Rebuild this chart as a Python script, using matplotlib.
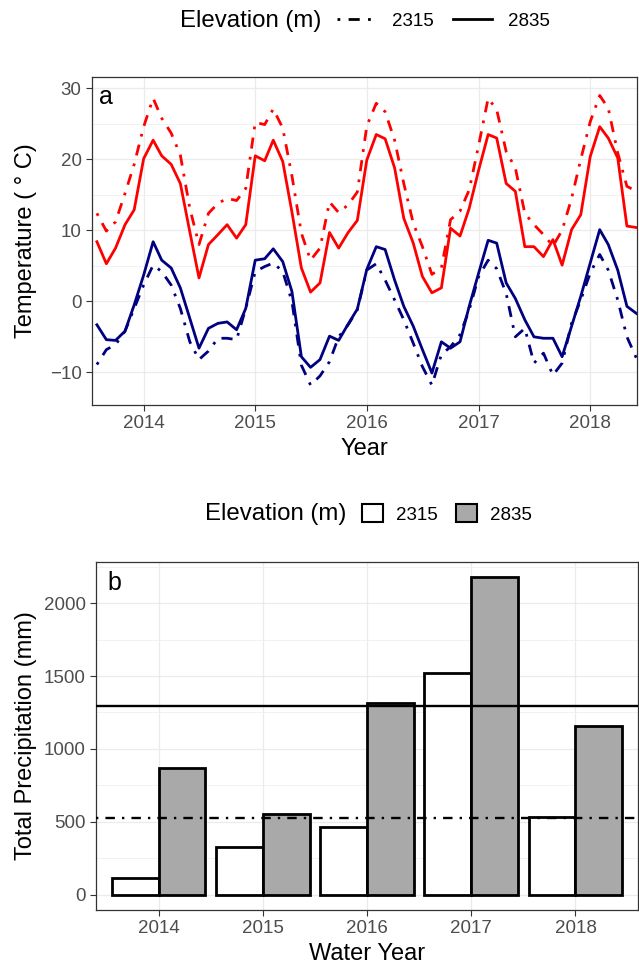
import numpy as np
import pandas as pd
import matplotlib
matplotlib.use('Agg')
import matplotlib.pyplot as plt
import matplotlib.dates as mdates
from matplotlib.lines import Line2D
from matplotlib.patches import Patch

plt.rcParams['font.family'] = ['Liberation Sans', 'DejaVu Sans']

# monthly temperatures, Aug 2013 - Jun 2018
months = pd.date_range('2013-08-01', '2018-06-01', freq='MS')

tmax_2315 = [12.4, 9.9, 11.2, 15.2, 19.3,
             24.6, 28.6, 25.8, 23.7, 20.6, 13.1, 8.0, 12.4, 13.8, 14.5, 14.2, 15.9,
             25.2, 24.9, 27.1, 24.4, 17.7, 9.6, 5.8, 7.5, 14.0, 12.5, 13.6, 15.4,
             24.7, 27.9, 26.7, 22.7, 16.6, 11.0, 7.7, 3.8, 4.7, 11.5, 12.7, 15.7,
             22.0, 28.6, 27.0, 21.1, 18.8, 12.4, 10.8, 9.4, 7.8, 10.0, 14.5, 20.0,
             25.3, 29.0, 27.2, 20.9, 16.2, 15.5]
tmax_2835 = [8.4, 5.3, 7.5, 10.8, 12.9,
             20.1, 22.7, 20.5, 19.3, 16.6, 9.8, 3.3, 8.0, 9.4, 10.8, 8.9, 10.8,
             20.5, 19.8, 22.7, 19.7, 12.6, 4.7, 1.3, 2.6, 9.7, 7.5, 9.7, 11.4,
             19.9, 23.5, 22.9, 18.8, 11.7, 8.2, 3.5, 1.2, 1.9, 10.3, 9.2, 13.1,
             18.5, 23.5, 23.0, 16.6, 15.5, 7.7, 7.7, 6.3, 8.7, 5.1, 10.1, 12.2,
             20.4, 24.6, 23.0, 20.2, 10.6, 10.4]
tmin_2315 = [-8.9, -6.8, -6.1, -4.2, -1.0,
             2.3, 5.1, 4.2, 2.3, -1.0, -5.7, -8.2, -7.0, -5.2, -5.2, -5.4, -1.0,
             4.2, 4.9, 5.4, 4.2, 0.0, -9.0, -11.8, -10.5, -8.5, -5.0, -3.3, -1.2,
             4.4, 5.3, 3.0, 0.2, -2.6, -5.9, -9.2, -11.8, -7.5, -6.4, -4.7, -1.2,
             3.5, 5.8, 4.6, 1.1, -5.0, -3.8, -8.7, -7.3, -10.4, -8.7, -3.1, 0.2,
             4.0, 6.6, 4.4, 0.2, -5.0, -8.0]
tmin_2835 = [-3.3, -5.4, -5.5, -4.2, -0.5,
             3.7, 8.4, 5.8, 4.7, 1.9, -2.4, -6.6, -3.8, -3.1, -2.9, -4.0, -1.0,
             5.8, 6.0, 7.4, 5.6, 1.4, -7.8, -9.3, -8.2, -4.9, -5.5, -3.2, -1.1,
             4.5, 7.7, 7.3, 3.0, -0.7, -3.5, -6.8, -10.1, -5.7, -6.6, -5.7, -0.7,
             4.0, 8.6, 8.2, 2.6, 0.4, -2.6, -5.0, -5.2, -5.2, -7.8, -3.5, 0.7,
             5.4, 10.1, 8.0, 4.4, -0.7, -1.7]

# water-year precipitation totals
water_years = ['2014', '2015', '2016', '2017', '2018']
precip_2315 = [119, 331, 468, 1518, 537]
precip_2835 = [868, 555, 1313, 2180, 1160]
mean_2315 = 525
mean_2835 = 1297

dotdash = (0, (1, 3, 4, 3))
tick_col = '#4D4D4D'
frame_col = '#333333'


def style_axes(ax):
    ax.set_axisbelow(True)
    ax.grid(which='major', color='#EBEBEB', lw=0.9)
    ax.grid(which='minor', color='#EBEBEB', lw=0.45)
    for s in ax.spines.values():
        s.set_color(frame_col)
        s.set_linewidth(0.9)
    ax.tick_params(which='major', length=4, width=0.8, color=frame_col,
                   labelcolor=tick_col, labelsize=13.5, pad=3.5)
    ax.tick_params(which='minor', length=0)


fig = plt.figure(figsize=(6.39, 9.67), dpi=100)

# ---- panel a: temperature
ax1 = fig.add_axes([92/639, 1-405/967, 545/639, 328/967])
ax1.plot(months, tmax_2315, color='red', lw=2.0, ls=dotdash)
ax1.plot(months, tmax_2835, color='red', lw=2.0)
ax1.plot(months, tmin_2315, color='navy', lw=2.0, ls=dotdash)
ax1.plot(months, tmin_2835, color='navy', lw=2.0)
ax1.set_xlim(pd.Timestamp('2013-07-16'), pd.Timestamp('2018-06-03'))
ax1.set_ylim(-14.6, 31.6)
ax1.set_yticks([-10, 0, 10, 20, 30])
ax1.set_yticks([-5, 5, 15, 25], minor=True)
ax1.xaxis.set_major_locator(mdates.YearLocator())
ax1.xaxis.set_major_formatter(mdates.DateFormatter('%Y'))
ax1.set_yticklabels(['\u221210', '0', '10', '20', '30'])
style_axes(ax1)
ax1.set_xlabel('Year', fontsize=17, labelpad=4)
ax1.set_ylabel('Temperature ( \u00b0 C)', fontsize=17, labelpad=9)
ax1.text(0.012, 0.975, 'a', transform=ax1.transAxes, fontsize=18, va='top', ha='left')

# legend a
fig.text(180/639, 1-21/967, 'Elevation (m)', fontsize=17.3, va='center', ha='left')
h1 = [Line2D([], [], color='black', lw=2.0, ls=dotdash),
      Line2D([], [], color='black', lw=2.0)]
fig.legend(h1, ['2315', '2835'], ncol=2, frameon=False, loc='center left',
           bbox_to_anchor=(337/639, 1-21/967), fontsize=13.5, handlelength=2.1,
           handletextpad=0.85, columnspacing=1.0, borderpad=0, borderaxespad=0)

# ---- panel b: precipitation
ax2 = fig.add_axes([96/639, 1-910/967, 542/639, 348/967])
x = np.arange(len(water_years))
w = 0.45
ax2.bar(x - w/2, precip_2315, width=w, color='white', edgecolor='black', lw=2.0, zorder=2)
ax2.bar(x + w/2, precip_2835, width=w, color='darkgrey', edgecolor='black', lw=2.0, zorder=2)
ax2.axhline(mean_2835, color='black', lw=1.7, zorder=3)
ax2.axhline(mean_2315, color='black', lw=1.7, ls=dotdash, zorder=3)
ax2.set_xticks(x)
ax2.set_xticklabels(water_years)
ax2.set_xlim(-0.6, 4.6)
ax2.set_ylim(-103, 2281)
ax2.set_yticks([0, 500, 1000, 1500, 2000])
ax2.set_yticks([250, 750, 1250, 1750, 2250], minor=True)
style_axes(ax2)
ax2.set_xlabel('Water Year', fontsize=17, labelpad=4)
ax2.set_ylabel('Total Precipitation (mm)', fontsize=17, labelpad=5)
ax2.text(0.022, 0.975, 'b', transform=ax2.transAxes, fontsize=18, va='top', ha='left')

# legend b
fig.text(205/639, 1-514/967, 'Elevation (m)', fontsize=17.3, va='center', ha='left')
h2 = [Patch(facecolor='white', edgecolor='black', lw=1.5),
      Patch(facecolor='darkgrey', edgecolor='black', lw=1.5)]
fig.legend(h2, ['2315', '2835'], ncol=2, frameon=False, loc='center left',
           bbox_to_anchor=(362/639, 1-514/967), fontsize=13.5, handlelength=1.1,
           handleheight=1.1, handletextpad=0.7, columnspacing=1.0,
           borderpad=0, borderaxespad=0)

fig.savefig('out.png', dpi=100)
